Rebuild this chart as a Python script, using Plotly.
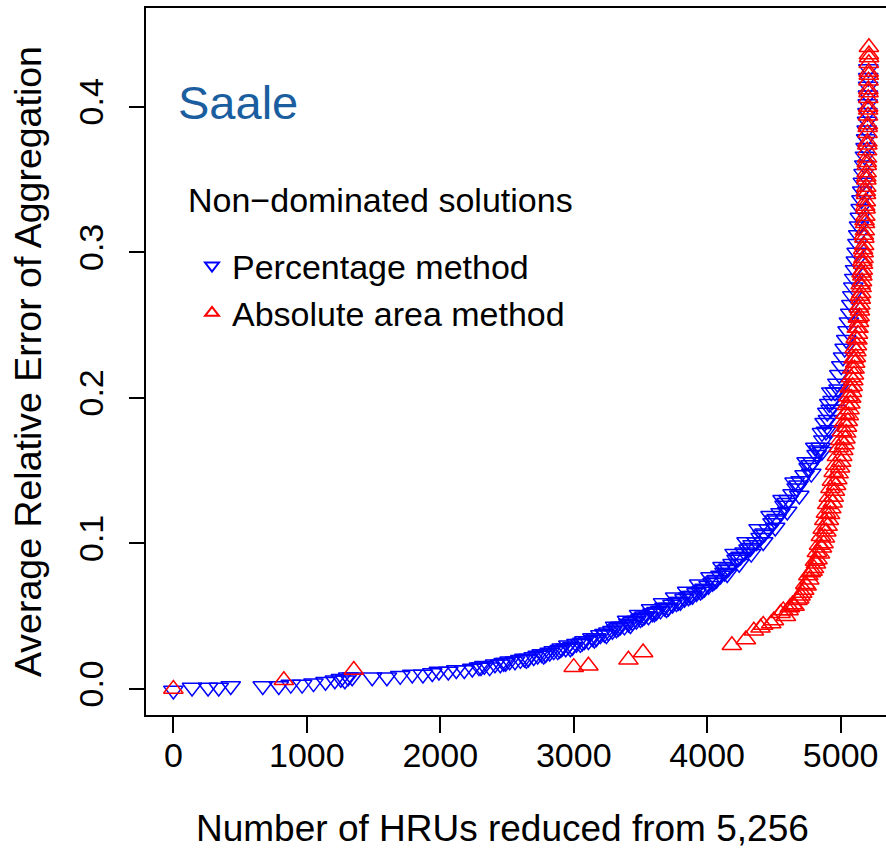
import plotly.graph_objects as go

# ---- data ----
pct_x = [0, 140, 260, 340, 430,
         670, 790, 880, 965, 1050, 1140, 1210, 1255, 1285, 1310, 1340,
         1490, 1600, 1700, 1790, 1870, 1940, 1990, 2060, 2120, 2180, 2240, 2290, 2330, 2370,
         2410, 2450, 2490, 2520, 2560, 2600, 2630, 2660, 2700, 2730, 2760, 2790, 2820, 2850,
         2880, 2910, 2940, 2960, 2990, 3020, 3050, 3080, 3110, 3140, 3170, 3200, 3230, 3260,
         3290, 3320, 3350, 3380, 3410, 3440, 3470, 3500, 3530, 3560, 3590, 3620, 3650, 3680,
         3710, 3740, 3770, 3800, 3830, 3860, 3890, 3920, 3950, 3980, 4010, 4040, 4070, 4100,
         4130, 4160, 4190, 4220, 4250, 4280, 4310, 4340, 4370, 4400, 4430, 4460, 4490, 4520,
         4550, 4580, 4610, 4640, 4670, 4700, 4730, 4760, 4790, 4820, 4850, 4870, 4890,
         2305, 2475, 2645, 2775, 2895, 2975, 3065, 3155, 3245, 3335, 3425, 3515, 3605, 3695,
         3785, 3875, 3965, 4055, 4145, 4235, 4325, 4415, 4505, 4595, 4685, 4775, 4835,
         3310, 3400, 3490, 3580, 3670, 3760, 3850, 3940, 4025, 4115, 4205, 4295, 4385, 4475,
         4565, 4655, 4745, 4810, 4860, 4880, 4900, 4915, 4930,
         4150, 4240, 4330, 4420, 4510, 4600, 4690, 4780, 4860, 4920, 4965, 4985,
         4905, 4925, 4940, 4958, 4975, 4990, 5005, 5018, 5030, 5042, 5052, 5062, 5072, 5080,
         5088, 5095, 5102, 5108, 5114, 5120, 5126, 5132, 5138, 5144, 5150, 5156, 5162, 5167,
         5172, 5177, 5182, 5187, 5191, 5195, 5198, 5201, 5203, 5205, 5206, 5207, 5208]
pct_y = [-0.001, 0.001, 0.001, 0.001, 0.002,
         0.002, 0.002, 0.003, 0.003, 0.004, 0.005, 0.006, 0.007, 0.006, 0.008, 0.008,
         0.008, 0.008, 0.009, 0.010, 0.010, 0.011, 0.012, 0.012, 0.013, 0.013, 0.014, 0.015, 0.016, 0.015,
         0.017, 0.017, 0.018, 0.019, 0.019, 0.020, 0.021, 0.021, 0.022, 0.023, 0.024, 0.024, 0.025, 0.026,
         0.026, 0.028, 0.028, 0.030, 0.029, 0.031, 0.031, 0.033, 0.033, 0.035, 0.035, 0.037, 0.038, 0.039,
         0.040, 0.041, 0.043, 0.043, 0.045, 0.046, 0.047, 0.048, 0.050, 0.050, 0.052, 0.053, 0.054, 0.056,
         0.056, 0.058, 0.059, 0.060, 0.062, 0.063, 0.064, 0.066, 0.067, 0.069, 0.071, 0.073, 0.075, 0.078,
         0.080, 0.083, 0.086, 0.089, 0.091, 0.094, 0.096, 0.099, 0.101, 0.104, 0.107, 0.110, 0.114, 0.117,
         0.121, 0.126, 0.130, 0.134, 0.138, 0.143, 0.147, 0.152, 0.156, 0.161, 0.166, 0.171, 0.177,
         0.015, 0.018, 0.020, 0.023, 0.027, 0.028, 0.032, 0.034, 0.037, 0.042, 0.044, 0.049, 0.052, 0.055,
         0.060, 0.064, 0.068, 0.074, 0.082, 0.090, 0.097, 0.106, 0.116, 0.128, 0.140, 0.154, 0.164,
         0.043, 0.047, 0.051, 0.055, 0.059, 0.063, 0.067, 0.072, 0.077, 0.084, 0.093, 0.101, 0.110, 0.119,
         0.130, 0.142, 0.156, 0.166, 0.176, 0.183, 0.190, 0.196, 0.204,
         0.079, 0.086, 0.093, 0.101, 0.111, 0.122, 0.133, 0.148, 0.163, 0.178, 0.192, 0.206,
         0.185, 0.192, 0.198, 0.204, 0.210, 0.216, 0.222, 0.228, 0.234, 0.240, 0.246, 0.252, 0.258, 0.264,
         0.270, 0.276, 0.282, 0.288, 0.294, 0.300, 0.306, 0.312, 0.318, 0.324, 0.330, 0.336, 0.342, 0.348,
         0.354, 0.360, 0.366, 0.372, 0.378, 0.384, 0.390, 0.396, 0.402, 0.408, 0.414, 0.420, 0.426]

abs_x = [0, 828, 1352, 3000, 3110, 3410, 3520, 4185, 4290, 4350, 4400, 4420, 4480, 4500,
         4550, 4570, 4610, 4640, 4677, 4700, 4727, 4745, 4765, 4777, 4800, 4815, 4827, 4845, 4860,
         4872, 4882, 4893, 4902, 4912, 4921, 4930, 4940, 4948, 4957, 4966, 4975, 4985, 4996,
         5004, 5012, 5020, 5028, 5036, 5042, 5048, 5054, 5061, 5067, 5073, 5079, 5085, 5090,
         5095, 5100, 5105, 5109, 5114, 5118, 5122, 5126, 5130, 5134, 5138, 5142, 5145, 5148,
         5151, 5154, 5157, 5160, 5163, 5166, 5168, 5171, 5173, 5176, 5178, 5181, 5183, 5185,
         5187, 5189, 5190, 5192, 5193, 5195, 5196, 5198, 5199, 5201, 5202, 5204, 5205, 5206,
         5207, 5208, 5209, 5210, 5211, 5212, 5212,
         4590, 4620, 4655, 4690, 4712, 4735, 4758, 4790, 4808, 4822, 4838, 4852, 4866, 4878,
         4890, 4900, 4912, 4924, 4935, 4948, 4960, 4972, 4986, 4998, 5010, 5024, 5035, 5046,
         5058, 5068, 5078, 5088, 5097, 5105, 5113, 5121, 5129, 5137, 5144, 5150, 5157, 5163,
         5168, 5174, 5179, 5184, 5188, 5192, 5196, 5200, 5203, 5206, 5209, 5211, 5213]
abs_y = [0.000, 0.006, 0.013, 0.015, 0.016, 0.020, 0.025, 0.030, 0.034, 0.040, 0.042, 0.044, 0.045, 0.047,
         0.052, 0.054, 0.054, 0.058, 0.061, 0.064, 0.068, 0.071, 0.075, 0.080, 0.083, 0.086, 0.089, 0.093, 0.097,
         0.100, 0.104, 0.108, 0.112, 0.116, 0.120, 0.124, 0.128, 0.132, 0.136, 0.140, 0.144, 0.148, 0.152,
         0.156, 0.160, 0.164, 0.168, 0.172, 0.176, 0.180, 0.184, 0.188, 0.192, 0.196, 0.200, 0.204, 0.208,
         0.212, 0.216, 0.220, 0.224, 0.228, 0.232, 0.236, 0.240, 0.244, 0.248, 0.252, 0.256, 0.260, 0.264,
         0.268, 0.272, 0.276, 0.280, 0.284, 0.288, 0.292, 0.296, 0.300, 0.305, 0.310, 0.315, 0.320, 0.325,
         0.330, 0.335, 0.340, 0.345, 0.350, 0.355, 0.360, 0.365, 0.370, 0.376, 0.382, 0.388, 0.394, 0.400,
         0.406, 0.412, 0.418, 0.424, 0.430, 0.436, 0.441,
         0.050, 0.056, 0.057, 0.062, 0.066, 0.072, 0.078, 0.081, 0.088, 0.094, 0.099, 0.105, 0.110, 0.116,
         0.121, 0.127, 0.132, 0.138, 0.143, 0.149, 0.154, 0.160, 0.166, 0.171, 0.177, 0.183, 0.189, 0.195,
         0.201, 0.207, 0.214, 0.220, 0.227, 0.234, 0.241, 0.248, 0.255, 0.262, 0.270, 0.278, 0.286, 0.294,
         0.302, 0.312, 0.322, 0.332, 0.342, 0.352, 0.362, 0.374, 0.386, 0.398, 0.410, 0.422, 0.434]

x_ticks = [0, 1000, 2000, 3000, 4000, 5000]
y_ticks = [0.0, 0.1, 0.2, 0.3, 0.4]
y_tick_text = ["0.0", "0.1", "0.2", "0.3", "0.4"]

FONT = "Liberation Sans, Arial, sans-serif"
W, H = 886, 849
L, R, T, B = 146, 0, 8, 134
PW, PH = W - L - R, H - T - B

def px_x(p):
    return (p - L) / PW

def px_y(p):
    return (H - B - p) / PH

fig = go.Figure()
fig.add_trace(go.Scatter(
    x=pct_x, y=pct_y, mode="markers", name="Percentage method",
    marker=dict(symbol="triangle-down-open", size=17, color="#0000FF",
                line=dict(width=1.5, color="#0000FF"))))
fig.add_trace(go.Scatter(
    x=abs_x, y=abs_y, mode="markers", name="Absolute area method",
    marker=dict(symbol="triangle-up-open", size=17, color="#FF0000",
                line=dict(width=1.5, color="#FF0000"))))

axis_common = dict(showgrid=False, zeroline=False, showline=True, linecolor="black",
                   linewidth=2, ticks="outside", tickcolor="black", tickwidth=1.5,
                   tickfont=dict(family=FONT, size=34, color="black"))

fig.update_layout(
    width=W, height=H,
    margin=dict(l=L, r=R, t=T, b=B, pad=0),
    paper_bgcolor="white", plot_bgcolor="white",
    font=dict(family=FONT, color="black"),
    xaxis=dict(range=[-205, 5340], tickvals=x_ticks, ticklen=16, mirror=True,
               ticklabelstandoff=-7, **axis_common),
    yaxis=dict(range=[-0.0179, 0.468], tickvals=y_ticks, ticktext=y_tick_text,
               tickangle=-90, ticklen=15, ticklabelstandoff=12, **axis_common),
    showlegend=True,
    legend=dict(x=px_x(192), y=px_y(237), xanchor="left", yanchor="top",
                bgcolor="rgba(0,0,0,0)", borderwidth=0, itemsizing="constant",
                font=dict(family=FONT, size=34, color="black"), tracegroupgap=0),
    annotations=[
        dict(text="Number of HRUs reduced from 5,256", xref="paper", yref="paper",
             x=px_x(502), y=px_y(828), xanchor="center", yanchor="middle",
             showarrow=False, font=dict(family=FONT, size=37, color="black")),
        dict(text="Average Relative Error of Aggregation", xref="paper", yref="paper",
             x=px_x(28), y=px_y(362), xanchor="center", yanchor="middle", textangle=-90,
             showarrow=False, font=dict(family=FONT, size=37.5, color="black")),
        dict(text="Saale", xref="paper", yref="paper",
             x=px_x(238), y=px_y(103), xanchor="center", yanchor="middle",
             showarrow=False, font=dict(family=FONT, size=47, color="#1A5E9F")),
        dict(text="Non\u2212dominated solutions", xref="paper", yref="paper",
             x=px_x(186), y=px_y(200), xanchor="left", yanchor="middle",
             showarrow=False, font=dict(family=FONT, size=34, color="black")),
    ],
)

fig.write_html("out.html")
